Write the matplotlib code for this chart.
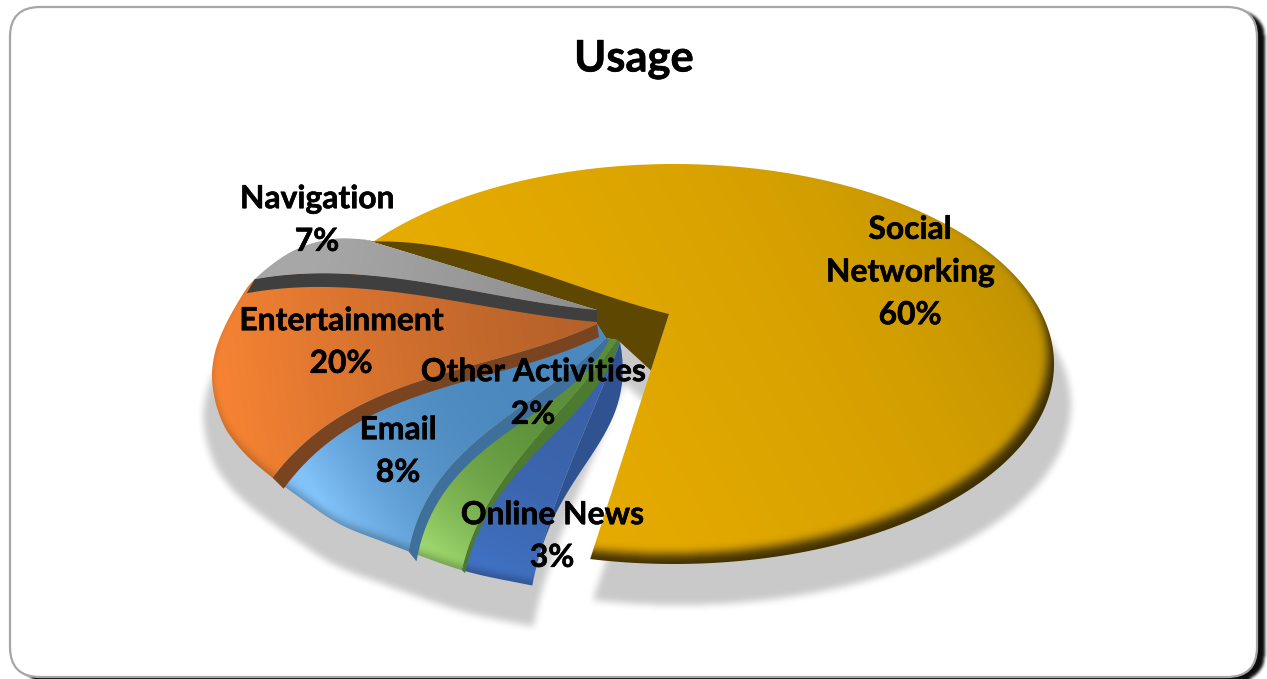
import numpy as np
import matplotlib
matplotlib.use('Agg')
import matplotlib.pyplot as plt
import matplotlib.patheffects as pe
from matplotlib.patches import FancyBboxPatch, Polygon
from matplotlib.path import Path

# clockwise from the top of the big slice
categories = ['Social\nNetworking', 'Online News', 'Other Activities', 'Email', 'Entertainment', 'Navigation']
shares = [60, 3, 2, 8, 20, 7]
title = 'Usage'

W, H = 1267, 679
START_ANGLE = 315.0

# top surface colours, hub side then rim side, and the colour of the cut face
top_inner = ['#b68c00', '#3a62a8', '#5a8e38', '#4b88bd', '#b5612a', '#8c8c8c']
top_outer = ['#e6ab01', '#4172c4', '#a2dc70', '#82c3fa', '#f88433', '#a8a8a8']
wall_colors = ['#5e4700', '#2f5391', '#4c7a2e', '#3f6f9b', '#7b4420', '#3f3f3f']
shade_power = [0.45, 3, 3, 4, 1.3, 1]

# outline of the exploded slice: ellipse centre, half axes, first angle and stretch
BIG_CENTRE = np.array([674.0, 364.0])
BIG_AXES = np.array([380.0, 200.0])
BIG_PHI0 = -142.2
BIG_STRETCH = 1.134
BIG_HUB = np.array([669.0, 314.0])

# rim of the group of small slices as angle -> pixel guide points
SMALL_HUB = np.array([598.0, 316.0])
rim_angle = [171, 181.8, 189, 203, 217.8, 226, 235, 244, 253.8, 262, 270, 280, 289.8, 298, 307, 315]
rim_x = [540, 463, 405, 338, 271, 246, 225, 215, 211, 215, 226, 238, 251, 290, 333, 370]
rim_y = [587, 572, 550, 525, 477, 456, 430, 403, 375, 349, 323, 302, 281, 250, 237, 240]

# per slice edge shape, order follows categories
hub_shift = [(0, 0), (22, 26), (19, 24), (8, 22), (-1, 8), (-1, -6)]
edge_bow = [12, 6, 16, 27, 28, 14]
wall_hub = [(0, 0), (0, 0), (2, 2), (3, 2), (2, 13), (0, 12)]
wall_rim = [(0, 0), (0, 0), (3, 3), (8, 10), (11, 11), (-8, 14)]
wall_bump = [(0, 0), (17, 14), (8, 5), (7, 4), (0, 0), (0, 0)]

label_pos = [(910, 272), (552, 536), (533, 393), (398, 451), (341, 342), (317, 220)]

# dense rim table, smoothed so the guide points join without corners
dense_angle = np.arange(165.0, 321.0, 0.5)
smooth = np.convolve(np.ones(13) / 13, np.ones(13) / 13)
pad = len(smooth) // 2
pad_x = np.pad(np.interp(dense_angle, rim_angle, rim_x), pad, mode='reflect', reflect_type='odd')
pad_y = np.pad(np.interp(dense_angle, rim_angle, rim_y), pad, mode='reflect', reflect_type='odd')
dense_x = np.convolve(pad_x, smooth, mode='valid')
dense_y = np.convolve(pad_y, smooth, mode='valid')


def small_rim(ang):
    a = np.asarray(ang, float) % 360
    return np.column_stack([np.interp(a, dense_angle, dense_x), np.interp(a, dense_angle, dense_y)])


def big_outline(phi):
    p = np.radians(np.asarray(phi, float))
    return np.column_stack([BIG_CENTRE[0] + BIG_AXES[0] * np.cos(p), BIG_CENTRE[1] + BIG_AXES[1] * np.sin(p)])


def big_rim(ang):
    return big_outline(BIG_PHI0 + (np.asarray(ang, float) - START_ANGLE) * BIG_STRETCH)


def box_blur(a, r):
    # three passes of a running mean along both axes
    kernel = np.ones(2 * r + 1) / (2 * r + 1)
    out = a.astype(float)
    for _ in range(3):
        out = np.apply_along_axis(lambda m: np.convolve(m, kernel, mode='same'), 0, out)
        out = np.apply_along_axis(lambda m: np.convolve(m, kernel, mode='same'), 1, out)
    return out


def canvas_mask(poly):
    yy, xx = np.mgrid[0:H, 0:W]
    pts = np.column_stack([xx.ravel() + 0.5, yy.ravel() + 0.5])
    path = poly if isinstance(poly, Path) else Path(poly)
    return path.contains_points(pts).reshape(H, W)


def bowed_edge(hub, rim, bow, n=40):
    t = np.linspace(0, 1, n)[:, None]
    d = rim - hub
    normal = np.array([-d[1], d[0]]) / np.hypot(*d)
    return hub + t * d + bow * 6.75 * t ** 2 * (1 - t) * normal


def paint_top(ax, poly, p0, p1, inner, outer, power, rim_dark, strength, z):
    yy, xx = np.mgrid[0:H, 0:W]
    d = p1 - p0
    t = ((xx - p0[0]) * d[0] + (yy - p0[1]) * d[1]) / (d @ d)
    t = np.clip(t, 0, 1)[..., None] ** power
    c0 = np.array(matplotlib.colors.to_rgb(inner))
    c1 = np.array(matplotlib.colors.to_rgb(outer))
    rgb = (c0 + (c1 - c0) * t) * (1 - strength * rim_dark[..., None])
    im = ax.imshow(np.clip(rgb, 0, 1), extent=(0, W, H, 0), aspect='auto', zorder=z, interpolation='bilinear')
    im.set_clip_path(Polygon(poly, closed=True, transform=ax.transData))


fig = plt.figure(figsize=(W / 100, H / 100), dpi=100, facecolor='white')
ax = fig.add_axes([0, 0, 1, 1])
ax.set_axis_off()

# rounded frame with its dark drop shadow
frame = FancyBboxPatch((38, 35), 1191, 614, boxstyle='round,pad=28,rounding_size=30',
                       facecolor='white', edgecolor='#a6a6a6', linewidth=1.6, zorder=2)
frame_mask = canvas_mask(Path(frame.get_path().vertices, frame.get_path().codes))
moved = np.zeros_like(frame_mask)
moved[4:, 8:] = frame_mask[:-4, :-8]
padded = np.pad(moved, 8, mode='edge')
rgba = np.zeros((H, W, 4))
rgba[..., 3] = box_blur(padded, 1)[8:-8, 8:-8] * 0.95
ax.imshow(rgba, extent=(0, W, H, 0), aspect='auto', zorder=1)
ax.add_patch(frame)

# slice angles come from the shares
sweep = np.array(shares) * 3.6
starts = START_ANGLE + np.concatenate([[0], np.cumsum(sweep)[:-1]])
ends = starts + sweep

hubs = [BIG_HUB] + [SMALL_HUB + np.array(s, float) for s in hub_shift[1:]]
rims = [big_rim] + [small_rim] * 5

# start edges of all slices, the neighbouring slice reuses them as its end edge
start_edges = [None]
for i in range(1, 6):
    start_edges.append(bowed_edge(hubs[i], small_rim([starts[i]])[0], edge_bow[i]))

polys = []
for i in range(6):
    arc = rims[i](np.linspace(starts[i], ends[i], max(int(sweep[i]), 8) * 2))
    if i == 0:
        poly = np.vstack([hubs[0], arc])
    elif i < 5:
        poly = np.vstack([start_edges[i], arc, start_edges[i + 1][::-1]])
    else:
        poly = np.vstack([start_edges[i], arc])
    polys.append(poly)

# cut face behind the small slices, under the edge of the big one
nav_end = small_rim([ends[5]])[0]
big_start = big_rim([starts[0]])[0]
big_end = big_rim([ends[0]])[0]
upper_cut = bowed_edge(BIG_HUB, big_start, edge_bow[0])
back_wall = np.vstack([upper_cut[::-1], BIG_HUB + 0.23 * (big_end - BIG_HUB),
                       hubs[1], hubs[2], hubs[3], hubs[4], hubs[5], nav_end])

# soft grey cast shadow under the whole pie
union = np.zeros((H, W), bool)
for poly in polys + [back_wall]:
    p = poly.copy()
    p[:, 0] = 630 + (p[:, 0] - 630) * 1.03 + 4
    p[:, 1] = p[:, 1] + 41
    union |= canvas_mask(p)
rgba = np.zeros((H, W, 4))
rgba[..., 3] = box_blur(union, 3) * 0.215
ax.imshow(rgba, extent=(0, W, H, 0), aspect='auto', zorder=3)

# darkening along the lower right of the rim, from the outer outline only
big_disc = box_blur(canvas_mask(big_outline(np.linspace(0, 360, 361))), 4)
small_arc = small_rim(np.linspace(171, 315, 150))
small_disc = box_blur(canvas_mask(np.vstack([small_arc, [W, 0], [W, H]])), 3)
big_dark = 1 - np.roll(np.roll(big_disc, -10, axis=0), -6, axis=1)
small_dark = 1 - np.roll(small_disc, -5, axis=0)

ax.add_patch(Polygon(back_wall, closed=True, facecolor=wall_colors[0], edgecolor='none', zorder=6))

strengths = [0.7, 0.25, 0.25, 0.25, 0.2, 0.2]
z = 5
for i in range(6):
    if i == 0:
        # lit from the lower left, falling off to the upper right
        p0 = BIG_CENTRE + np.array([375.0, -64.0])
        p1 = BIG_CENTRE + np.array([-75.0, 176.0])
        paint_top(ax, polys[0], p0, p1, top_inner[0], top_outer[0], shade_power[0], big_dark, strengths[0], 5)
        z = 7
        continue
    light = small_rim([(starts[i] + ends[i]) / 2])[0]
    paint_top(ax, polys[i], hubs[i], light, top_inner[i], top_outer[i], shade_power[i], small_dark, strengths[i], z)
    z += 1
    edge = start_edges[i]
    t = np.linspace(0, 1, len(edge))[:, None]
    offset = (1 - t) * np.array(wall_hub[i], float) + t * np.array(wall_rim[i], float)
    offset = offset + 9.48 * t * (1 - t) ** 3 * np.array(wall_bump[i], float)
    wall = np.vstack([edge, (edge + offset)[::-1]])
    ax.add_patch(Polygon(wall, closed=True, facecolor=wall_colors[i], edgecolor='none', zorder=z))
    z += 1

heavy = [pe.withStroke(linewidth=0.4, foreground='black')]
ax.text(634, 59, title, ha='center', va='center', fontsize=31.3, fontweight='bold', family='Lato',
        color='black', zorder=30, path_effects=heavy)
for name, share, (lx, ly) in zip(categories, shares, label_pos):
    ax.text(lx, ly, f'{name}\n{share}%', ha='center', va='center', fontsize=22.9, fontweight='bold',
            family='Lato', color='black', linespacing=1.57, zorder=30, path_effects=heavy)

ax.set_xlim(0, W)
ax.set_ylim(H, 0)
fig.savefig('out.png', dpi=100, facecolor='white')
